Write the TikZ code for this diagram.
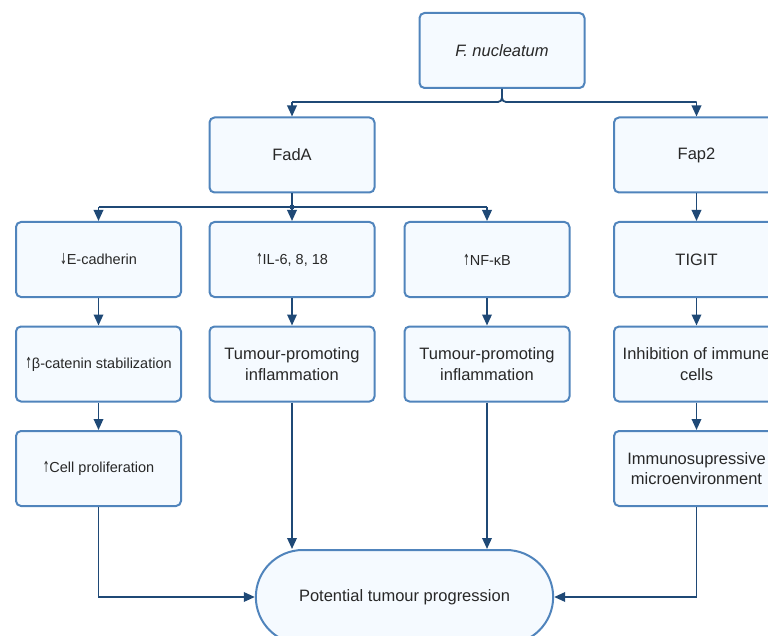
\documentclass[tikz,border=0pt]{standalone}
\usepackage{fontspec}
\setmainfont{Liberation Sans}
\newfontfamily\dvfont{DejaVu Sans}
\usetikzlibrary{arrows.meta,shapes.misc}
\definecolor{bd}{RGB}{80,132,188}
\definecolor{fl}{RGB}{245,250,255}
\definecolor{lnc}{RGB}{31,73,118}
\definecolor{tx}{RGB}{40,40,40}
\newcommand{\myup}{\scalebox{0.55}[1.05]{\dvfont ↑}}
\newcommand{\mydown}{\scalebox{0.55}[1.05]{\dvfont ↓}}
\begin{document}
\begin{tikzpicture}[x=1pt,y=-1pt,
 box/.style={draw=bd,fill=fl,line width=2pt,rounded corners=5pt,minimum width=165pt,minimum height=75pt,align=center,text=tx,font=\fontsize{16.5}{20.5}\selectfont,inner sep=2pt},
 small/.style={font=\fontsize{14.5}{17}\selectfont},
 ell/.style={draw=bd,fill=fl,line width=2pt,rounded rectangle,minimum width=304pt,minimum height=94pt,text=tx,font=\fontsize{16.5}{20.5}\selectfont},
 arr/.style={draw=lnc,line width=1.8pt,-{Triangle[length=11pt,width=9.5pt]}},
 lnk/.style={draw=lnc,line width=1.8pt}]
\useasboundingbox (0,0) rectangle (768,636);
% nodes
\node[box] (fn) at (502,50.5) {\itshape F. nucleatum};
\node[box] (fada) at (292,155) {FadA};
\node[box] (fap) at (696.5,155) {Fap2};
\node[box,small] (ecad) at (98.5,259.5) {\mydown E-cadherin};
\node[box,small] (il) at (292,259.5) {\myup IL-6, 8, 18};
\node[box,small] (nf) at (487,259.5) {\myup NF-κB};
\node[box] (tig) at (696.5,259.5) {TIGIT};
\node[box,small] (bcat) at (98.5,364) {\myup β-catenin stabilization};
\node[box] (tp1) at (292,364) {Tumour-promoting\\inflammation};
\node[box] (tp2) at (487,364) {Tumour-promoting\\inflammation};
\node[box] (inh) at (696.5,364) {Inhibition of immune\\cells};
\node[box,small] (cp) at (98.5,468.5) {\myup Cell proliferation};
\node[box] (imm) at (696.5,468.5) {Immunosupressive\\microenvironment};
\node[ell] (pt) at (404.5,597) {Potential tumour progression};
% coordinates
\coordinate (fnl) at (292,102);
\coordinate (fnr) at (696.5,102);
\coordinate (fj) at (292,207);
\coordinate (fjl) at (98.5,207);
\coordinate (fjr) at (487,207);
% F. nucleatum split
\draw[lnk,rounded corners=4pt] (fn.south) |- (fnl);
\draw[lnk,rounded corners=4pt] (fn.south) |- (fnr);
\draw[arr] (fnl) -- (fada.north);
\draw[arr] (fnr) -- (fap.north);
% FadA split
\draw[lnk] (fada.south) -- (fj);
\draw[lnk] (fjl) -- (fjr);
\fill[lnc] (fj) circle (2.5pt);
\draw[arr] (fjl) -- (ecad.north);
\draw[arr] (fj) -- (il.north);
\draw[arr] (fjr) -- (nf.north);
% columns
\draw[arr] (fap) -- (tig);
\draw[arr] (ecad) -- (bcat);
\draw[arr] (bcat) -- (cp);
\draw[arr] (il) -- (tp1);
\draw[arr] (nf) -- (tp2);
\draw[arr] (tig) -- (inh);
\draw[arr] (inh) -- (imm);
% to outcome
\draw[arr] (cp.south) |- (pt.west);
\draw[arr] (imm.south) |- (pt.east);
\draw[arr] (tp1.south) -- (tp1.south |- pt.north);
\draw[arr] (tp2.south) -- (tp2.south |- pt.north);
\end{tikzpicture}
\end{document}
